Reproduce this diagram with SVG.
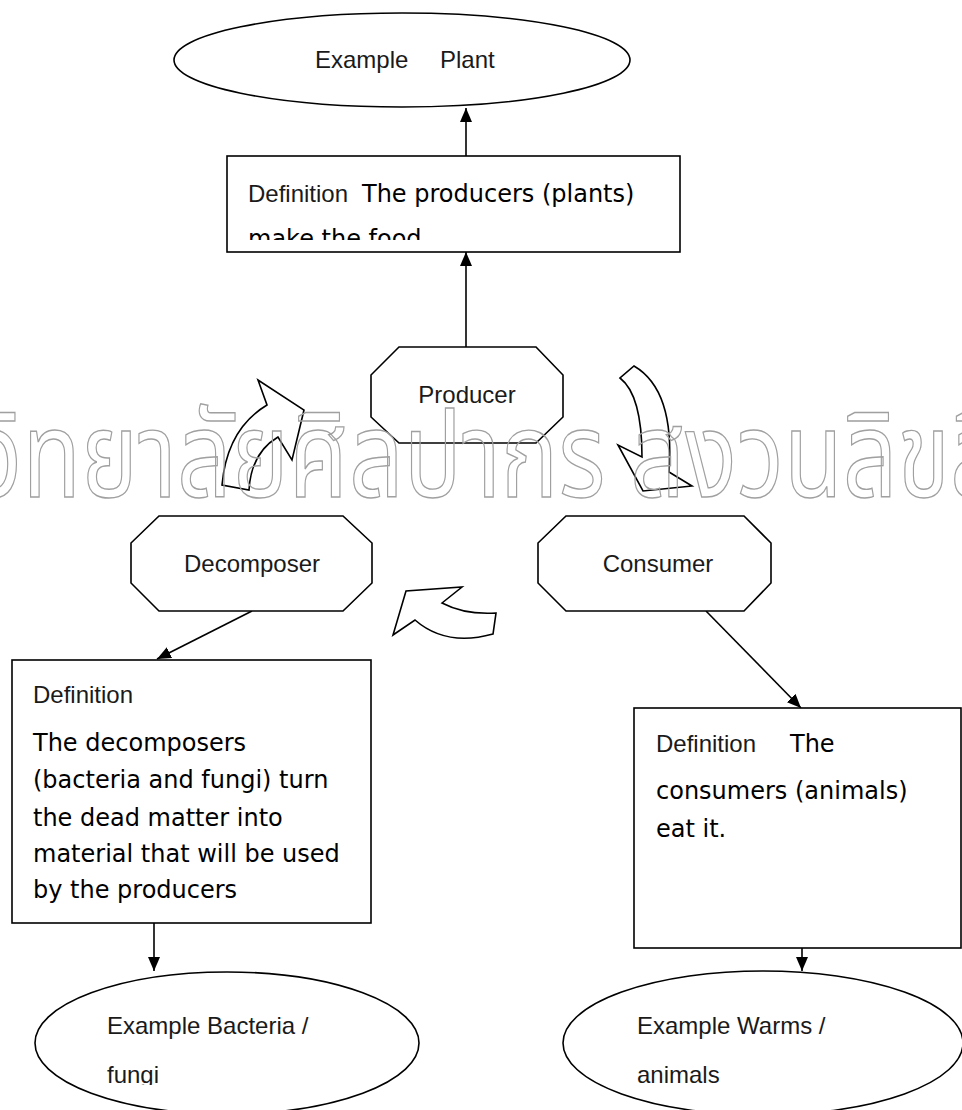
<svg xmlns="http://www.w3.org/2000/svg" width="962" height="1110" viewBox="0 0 962 1110">
<defs>
<style>
.shape{fill:#fff;stroke:#000;stroke-width:1.6}
.lbl{font-family:"Liberation Sans",Arial,sans-serif;font-size:24px;fill:#1a1a1a}
.comic{font-family:"DejaVu Sans","Noto Sans",sans-serif;font-size:24px;fill:#000}
.conn{stroke:#000;stroke-width:1.6;fill:none}
.blk{fill:#fff;stroke:#000;stroke-width:1.6;stroke-linejoin:miter}
.wm{font-family:"Noto Sans Thai","Noto Serif Thai","Loma","Garuda","Norasi","Kinnari","Waree",sans-serif;font-size:120px;fill:none;stroke:#a0a0a0;stroke-width:1.3}
</style>
<marker id="ah" viewBox="0 0 14 12" refX="14" refY="6" markerWidth="14" markerHeight="12" markerUnits="userSpaceOnUse" orient="auto">
<path d="M0,0 L14,6 L0,12 Z" fill="#000"/>
</marker>
<clipPath id="clipDef1"><rect x="227" y="156" width="453" height="84"/></clipPath>
<clipPath id="clipEx2"><rect x="0" y="960" width="480" height="125"/></clipPath>
</defs>
<rect width="962" height="1110" fill="#fff"/>

<g id="connectors">
<line class="conn" x1="466" y1="156" x2="466" y2="108" marker-end="url(#ah)"/>
<line class="conn" x1="466" y1="347" x2="466" y2="252" marker-end="url(#ah)"/>
<line class="conn" x1="252" y1="611" x2="157" y2="659" marker-end="url(#ah)"/>
<line class="conn" x1="706" y1="611" x2="801" y2="708" marker-end="url(#ah)"/>
<line class="conn" x1="154" y1="923" x2="154" y2="971" marker-end="url(#ah)"/>
<line class="conn" x1="802" y1="948" x2="802" y2="971" marker-end="url(#ah)"/>
</g>

<g id="cycle-arrows">
<path class="blk" d="M222,485 Q227,429 267,405 L258,380 L304,410 L292,460 L278,437 Q251,453 249,490 Z"/>
<path class="blk" d="M634,366 Q675,390 669,472 L692,486 L643,491 L618,445 L642,457 Q642,395 620,378 Z"/>
<path class="blk" d="M496,613 Q465,615 442,603 L462,587 L406,591 L393,635 L415,620 Q446,647 493,634 Z"/>
</g>

<g id="example-plant">
<ellipse class="shape" cx="402" cy="60" rx="228" ry="47"/>
<text class="lbl" x="315" y="68">Example</text>
<text class="lbl" x="440" y="68">Plant</text>
</g>

<g id="def-producer">
<rect class="shape" x="227" y="156" width="453" height="96"/>
<g clip-path="url(#clipDef1)">
<text class="lbl" x="248" y="202">Definition</text>
<text class="comic" x="362" y="202">The producers (plants)</text>
<text class="comic" x="248" y="247">make the food</text>
</g>
</g>

<g id="producer">
<polygon class="shape" points="399,347 536,347 563,375 563,417 536,443 399,443 371,417 371,375"/>
<text class="lbl" x="467" y="403" text-anchor="middle">Producer</text>
</g>

<g id="decomposer">
<polygon class="shape" points="159,516 343,516 372,543 372,583 343,611 159,611 131,583 131,543"/>
<text class="lbl" x="252" y="572" text-anchor="middle">Decomposer</text>
</g>

<g id="consumer">
<polygon class="shape" points="566,516 744,516 771,543 771,583 744,611 566,611 538,583 538,543"/>
<text class="lbl" x="658" y="572" text-anchor="middle">Consumer</text>
</g>

<g id="def-decomposer">
<rect class="shape" x="12" y="660" width="359" height="263"/>
<text class="lbl" x="33" y="703">Definition</text>
<text class="comic" x="33" y="751">The decomposers</text>
<text class="comic" x="33" y="788">(bacteria and fungi) turn</text>
<text class="comic" x="33" y="826">the dead matter into</text>
<text class="comic" x="33" y="862">material that will be used</text>
<text class="comic" x="33" y="898">by the producers</text>
</g>

<g id="def-consumer">
<rect class="shape" x="634" y="708" width="327" height="240"/>
<text class="lbl" x="656" y="752">Definition</text>
<text class="comic" x="790" y="752">The</text>
<text class="comic" x="656" y="799">consumers (animals)</text>
<text class="comic" x="656" y="837">eat it.</text>
</g>

<g id="example-decomposer">
<ellipse class="shape" cx="227" cy="1043" rx="192" ry="71"/>
<g clip-path="url(#clipEx2)">
<text class="lbl" x="107" y="1034">Example Bacteria /</text>
<text class="lbl" x="107" y="1083">fungi</text>
</g>
</g>

<g id="example-consumer">
<ellipse class="shape" cx="763" cy="1043" rx="200" ry="72"/>
<text class="lbl" x="637" y="1034">Example Warms /</text>
<text class="lbl" x="637" y="1083">animals</text>
</g>

<g id="watermark" transform="scale(0.8,1)">
<text class="wm" x="-31" y="497" vector-effect="non-scaling-stroke">วิทยาลัยศิลปากร สงวนลิขสิทธิ์</text>
</g>
</svg>
